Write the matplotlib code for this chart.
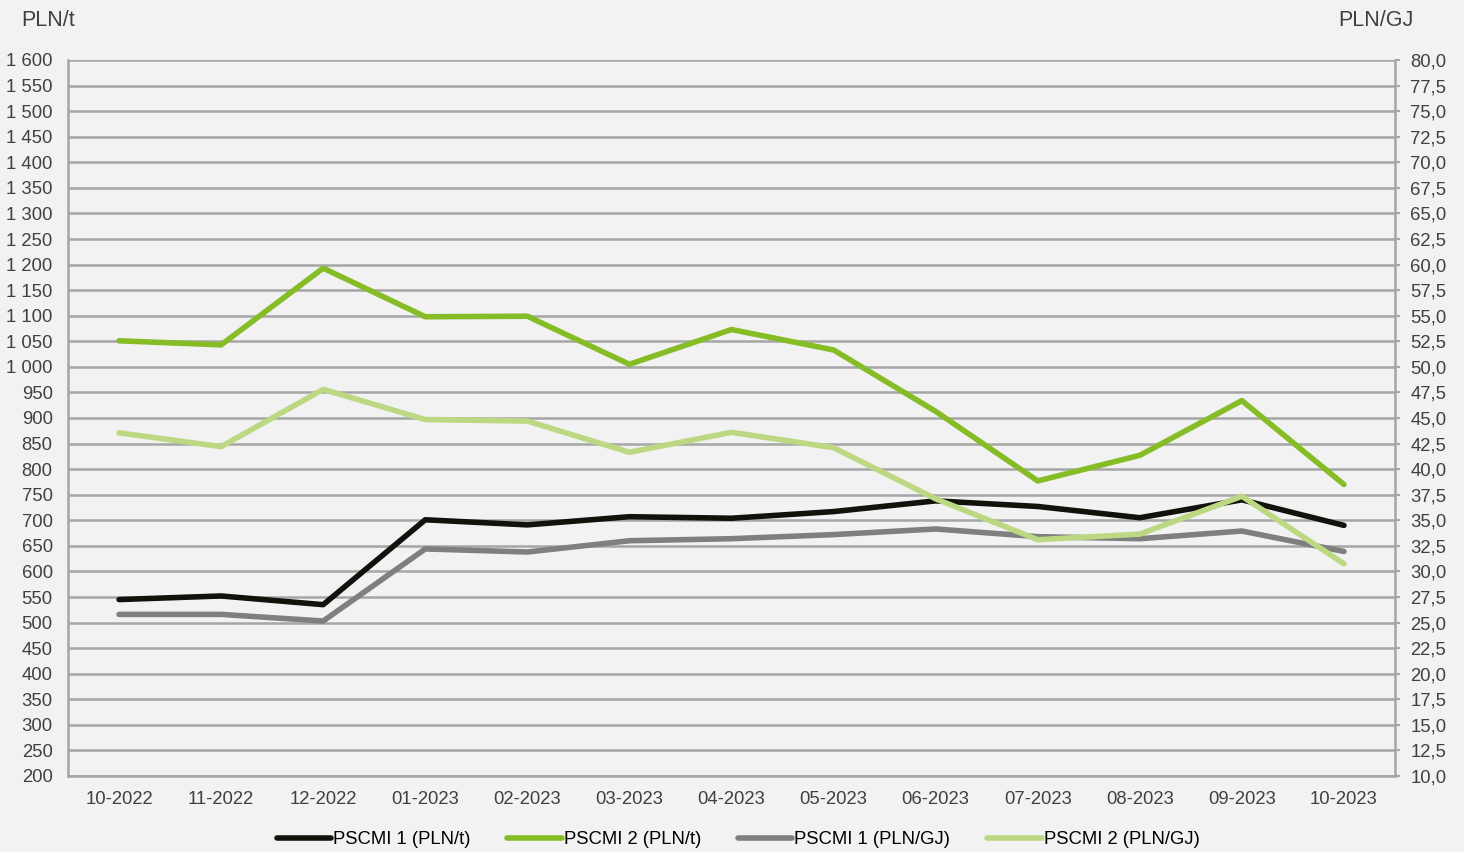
import matplotlib
matplotlib.use("Agg")
import matplotlib.pyplot as plt
from matplotlib.ticker import FuncFormatter, MultipleLocator
from matplotlib.lines import Line2D

plt.rcParams['font.family'] = ['Liberation Sans', 'DejaVu Sans']

categories = ["10-2022", "11-2022", "12-2022", "01-2023", "02-2023", "03-2023", "04-2023",
              "05-2023", "06-2023", "07-2023", "08-2023", "09-2023", "10-2023"]
pscmi1_t = [545, 552, 535, 701, 691, 707, 704, 717, 738, 727, 705, 740, 690]
pscmi2_t = [1051, 1043, 1193, 1098, 1099, 1005, 1073, 1033, 913, 777, 827, 934, 770]
pscmi1_gj = [25.8, 25.8, 25.15, 32.2, 31.9, 33.0, 33.2, 33.6, 34.15, 33.4, 33.2, 33.95, 31.95]
pscmi2_gj = [43.55, 42.2, 47.8, 44.85, 44.7, 41.65, 43.6, 42.1, 37.1, 33.1, 33.65, 37.35, 30.75]

series_names = ["PSCMI 1 (PLN/t)", "PSCMI 2 (PLN/t)", "PSCMI 1 (PLN/GJ)", "PSCMI 2 (PLN/GJ)"]
colors = ["#12110c", "#86bc25", "#7f7f7f", "#bdd882"]

bg = "#f2f2f2"
gridc = "#a6a6a6"
textc = "#404040"
fs = 13.3

fig = plt.figure(figsize=(14.64, 8.52), dpi=100, facecolor=bg)
ax = fig.add_axes([68/1464, 1 - 776/852, (1395-68)/1464, (776-60)/852])
ax.set_facecolor(bg)
ax2 = ax.twinx()
ax2.set_zorder(ax.get_zorder() + 1)
ax2.patch.set_visible(False)

x = list(range(len(categories)))
lw = 4.0

ax.set_xlim(-0.5, len(categories) - 0.5)
ax.set_ylim(200, 1600)
ax2.set_ylim(10, 80)

# PLN/t series on primary scale (overlay axes sharing the primary limits, so lines sit above the grid)
ax3 = ax.twinx()
ax3.set_ylim(200, 1600)
ax3.set_zorder(ax2.get_zorder() - 0.5)
ax3.patch.set_visible(False)
ax3.axis('off')
ax3.plot(x, pscmi1_t, color=colors[0], lw=lw, solid_capstyle='round')

ax2.plot(x, pscmi1_gj, color=colors[2], lw=lw, solid_capstyle='round', zorder=3)
ax2.plot(x, pscmi2_gj, color=colors[3], lw=lw, solid_capstyle='round', zorder=4)

ax4 = ax.twinx()
ax4.set_ylim(200, 1600)
ax4.set_zorder(ax2.get_zorder() + 1)
ax4.patch.set_visible(False)
ax4.axis('off')
ax4.plot(x, pscmi2_t, color=colors[1], lw=lw, solid_capstyle='round')

ax.yaxis.set_major_locator(MultipleLocator(50))
ax2.yaxis.set_major_locator(MultipleLocator(2.5))
ax.yaxis.set_major_formatter(FuncFormatter(lambda v, p: f"{int(round(v)):,}".replace(",", " ")))
ax2.yaxis.set_major_formatter(FuncFormatter(lambda v, p: f"{v:.1f}".replace(".", ",")))

ax.set_xticks(x)
ax.set_xticklabels(categories)
ax.grid(axis='y', color=gridc, lw=1.8)
ax.set_axisbelow(True)

for a in (ax, ax2):
    for s in a.spines.values():
        s.set_visible(False)
for side in ('left', 'bottom'):
    ax.spines[side].set_visible(True)
    ax.spines[side].set_color(gridc)
    ax.spines[side].set_linewidth(1.8)
ax2.spines['right'].set_visible(True)
ax2.spines['right'].set_color(gridc)
ax2.spines['right'].set_linewidth(1.8)

ax.tick_params(axis='y', length=0, pad=11, labelsize=fs, labelcolor=textc)
ax.tick_params(axis='x', length=0, pad=11, labelsize=fs, labelcolor=textc)
ax2.tick_params(axis='y', length=3.6, width=1.5, color=gridc, pad=7.5, labelsize=fs, labelcolor=textc)

fig.text(21/1464, 1 - 20/852, "PLN/t", fontsize=15.5, color=textc, va='center', ha='left')
fig.text(1414/1464, 1 - 20/852, "PLN/GJ", fontsize=15.5, color=textc, va='center', ha='right')

handles = [Line2D([0], [0], color=c, lw=lw, solid_capstyle='round') for c in colors]
leg = fig.legend(handles, series_names, loc='center', bbox_to_anchor=(738/1464, 1 - 840/852),
                 ncol=4, frameon=False, fontsize=fs, handlelength=2.95, handletextpad=0.1,
                 columnspacing=2.0, borderaxespad=0)
for t in leg.get_texts():
    t.set_color("#000000")

fig.savefig("out.png", dpi=100, facecolor=bg)
